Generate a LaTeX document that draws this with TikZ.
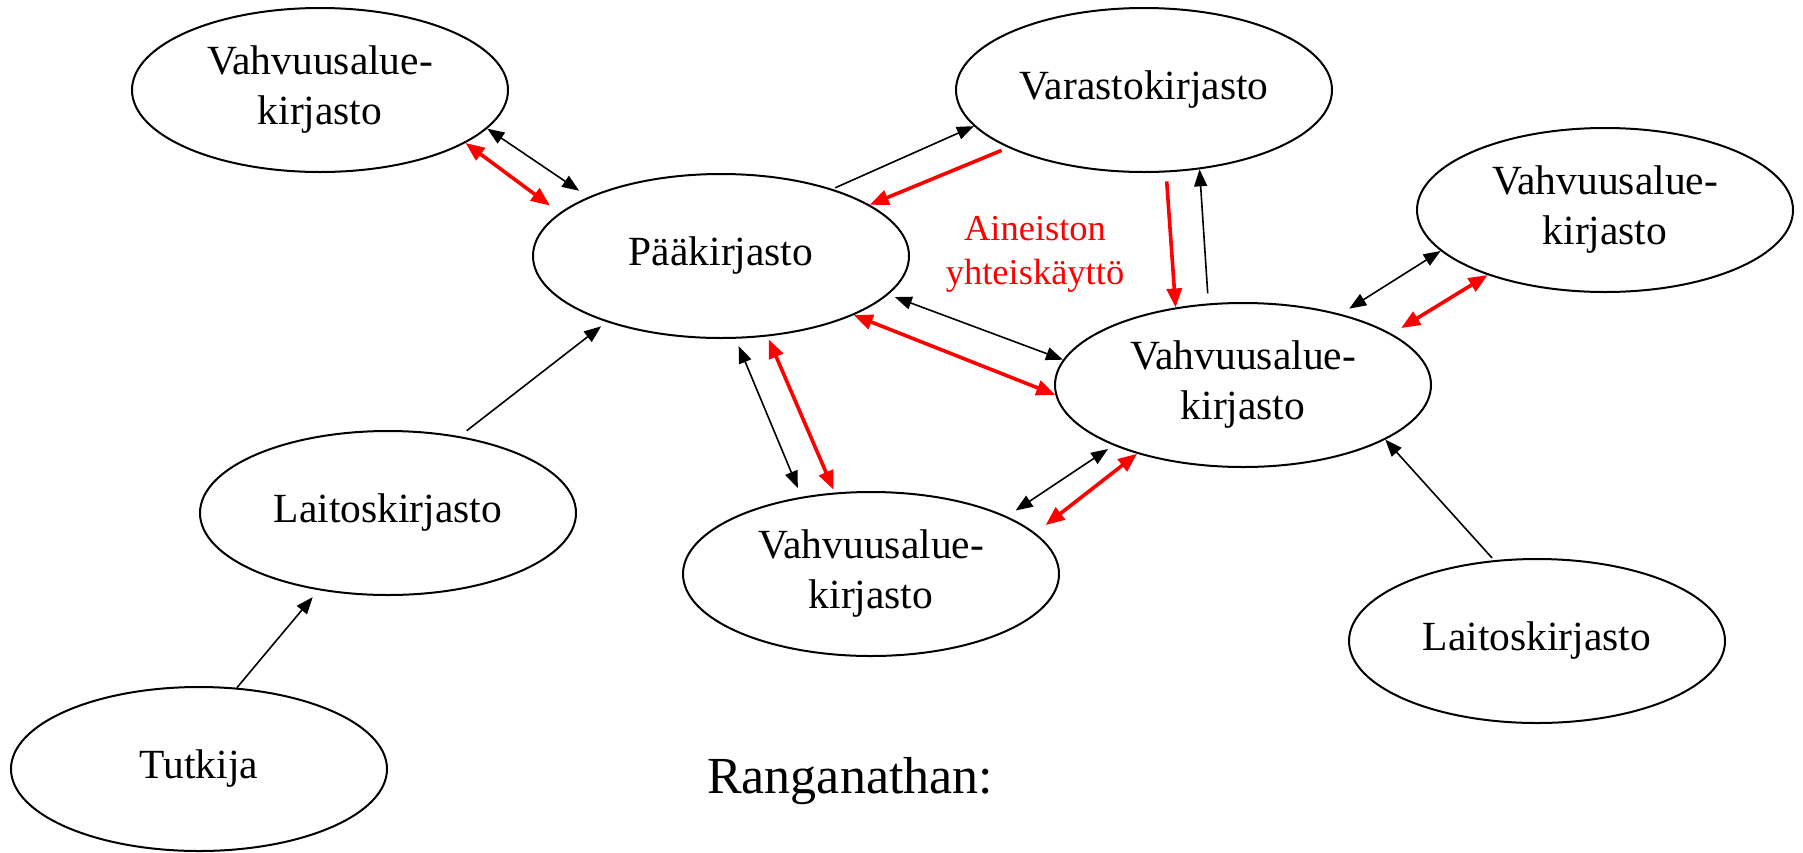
\documentclass[tikz,border=0pt]{standalone}
\usepackage{fontspec}
\setmainfont{Liberation Serif}
\usetikzlibrary{shapes.geometric,arrows.meta}
\begin{document}
\begin{tikzpicture}[x=1pt,y=-1pt,
  lib/.style={draw, ellipse, line width=2pt, minimum width=376pt, minimum height=164pt,
    inner sep=0pt, align=center, font=\fontsize{41.5}{50}\selectfont},
  blkd/.style={line width=1.6pt, {Triangle[length=17pt,width=13pt]}-{Triangle[length=17pt,width=13pt]}},
  blks/.style={line width=1.6pt, -{Triangle[length=17pt,width=13pt]}},
  redd/.style={draw=red, line width=3.6pt, {Triangle[length=19pt,width=15pt]}-{Triangle[length=19pt,width=15pt]}},
  reds/.style={draw=red, line width=3.6pt, -{Triangle[length=19pt,width=15pt]}}
]
\fill[white] (0,0) rectangle (1803,852);
\useasboundingbox (0,0) rectangle (1803,852);

\node[lib] (tl) at (320,90) {Vahvuusalue-\\kirjasto};
\node[lib] (v)  at (1144,90) {Varastokirjasto};
\node[lib] (p)  at (721,256) {Pääkirjasto};
\node[lib] (rv) at (1605,210) {Vahvuusalue-\\kirjasto};
\node[lib] (cv) at (1243,385) {Vahvuusalue-\\kirjasto};
\node[lib] (bv) at (871,574) {Vahvuusalue-\\kirjasto};
\node[lib] (l1) at (388,513) {Laitoskirjasto};
\node[lib] (l2) at (1537,641) {Laitoskirjasto};
\node[lib] (t)  at (199,769) {Tutkija};

\node[text=red, align=center, font=\fontsize{36.5}{44}\selectfont] (lbl) at (1035,254.5) {Aineiston\\yhteiskäyttö};
\node[anchor=base west, inner sep=0pt, font=\fontsize{52}{60}\selectfont] (rang) at (707,793) {Ranganathan:};

\draw[blkd, shorten >=11pt] (tl.-13.4) -- (p.156.4);
\draw[redd, shorten >=12pt] (tl.-20) -- (p.165.2);
\draw[blks, shorten <=3pt] (p.31.4) -- (v.192.8);
\draw[reds, shorten <=7pt] (v.-157.4) -- (p.19.2);
\draw[reds, shorten <=9pt] (v.-75.8) -- (cv.131.9);
\draw[blks, shorten <=10pt] (cv.113.2) -- (v.-55);
\draw[blkd, shorten <=7pt] (p.-13.3) -- (cv.172.9);
\draw[redd] (p.-24.9) -- (cv.183.9);
\draw[blkd, shorten <=8pt, shorten >=9.5pt] (p.-80) -- (bv.132.9);
\draw[redd, shorten <=3pt, shorten >=3pt] (p.-60.8) -- (bv.114.3);
\draw[blkd, shorten <=10.5pt, shorten >=6.5pt] (bv.23) -- (cv.-155.8);
\draw[redd, shorten <=13pt] (bv.14.6) -- (cv.-147.4);
\draw[blkd, shorten <=10pt] (cv.36.3) -- (rv.-166.6);
\draw[redd, shorten <=11pt] (cv.19.1) -- (rv.-151.2);
\draw[blks, shorten <=9pt, shorten >=7pt] (l1.47.9) -- (p.-150.7);
\draw[blks, shorten >=9pt] (t.65.1) -- (l1.-132.1);
\draw[blks, shorten <=3pt] (l2.118.5) -- (cv.-21.1);
\end{tikzpicture}
\end{document}
